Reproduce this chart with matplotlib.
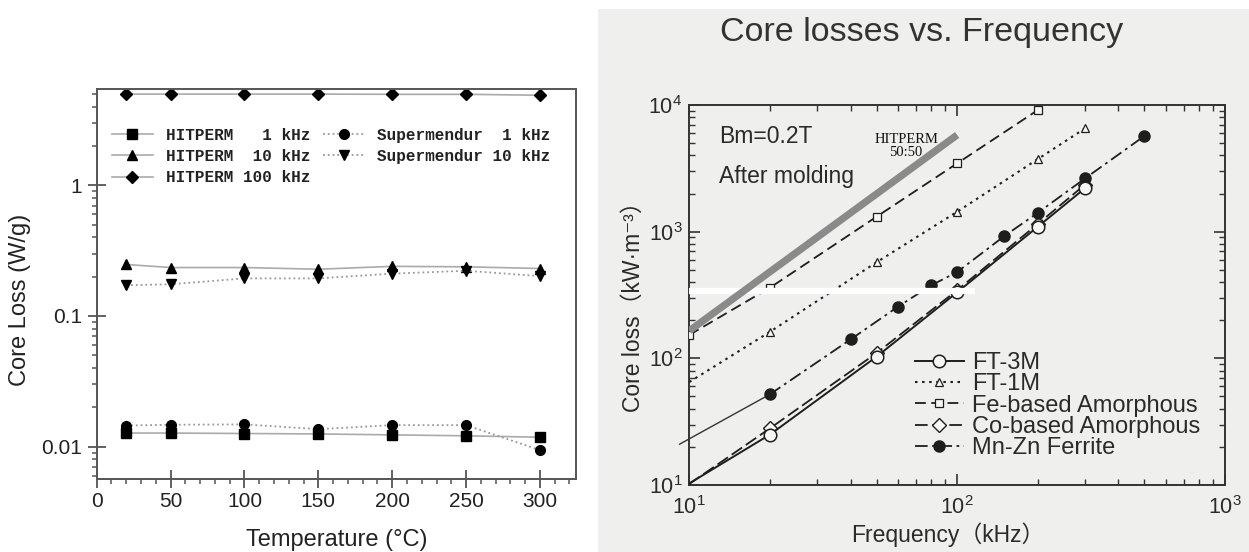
import math
import matplotlib
matplotlib.use('Agg')
import matplotlib.pyplot as plt
from matplotlib.patches import Rectangle
from matplotlib.ticker import LogLocator, FixedLocator, NullFormatter, MultipleLocator, FuncFormatter

plt.rcParams['font.family'] = ['Liberation Sans', 'Noto Sans CJK JP', 'DejaVu Sans']

# ---------------- Left chart data ----------------
temps = [20, 50, 100, 150, 200, 250, 300]
hitperm_1k = [0.0127, 0.0127, 0.0126, 0.0125, 0.0123, 0.0121, 0.0118]
hitperm_10k = [0.248, 0.235, 0.235, 0.228, 0.240, 0.238, 0.231]
hitperm_100k = [5.0, 5.0, 5.0, 5.0, 4.98, 4.98, 4.9]
supermendur_1k = [0.0145, 0.0147, 0.0148, 0.0136, 0.0146, 0.0146, 0.0094]
supermendur_10k = [0.172, 0.175, 0.194, 0.194, 0.211, 0.222, 0.202]
left_xticks = [0, 50, 100, 150, 200, 250, 300]
left_yticks = [0.01, 0.1, 1]
left_yticklabels = ['0.01', '0.1', '1']

# ---------------- Right chart data ----------------
ft3m_f = [10, 20, 50, 100, 200, 300]
ft3m_v = [10.3, 25, 103, 332, 1094, 2200]
ft1m_f = [10, 20, 50, 100, 200, 300]
ft1m_v = [65, 162, 573, 1436, 3740, 6530]
fe_f = [10, 20, 50, 100, 200]
fe_v = [153, 361, 1312, 3460, 9120]
co_f = [10, 20, 50, 100, 200, 300]
co_v = [10.2, 28, 110, 345, 1150, 2350]
mnzn_f = [20, 40, 60, 80, 100, 150, 200, 300, 500]
mnzn_v = [52, 141, 255, 377, 480, 923, 1409, 2630, 5690]
mnzn_ext_f = [9.2, 20]
mnzn_ext_v = [21, 52]
hitperm_f = [10, 100]
hitperm_v = [165, 5800]
strip_v = 340

W, H = 1249, 552
fig = plt.figure(figsize=(W / 100, H / 100), dpi=100)
fig.patch.set_facecolor('white')

# scanned-paper background of right panel
fig.patches.append(Rectangle((598 / W, 0), 1 - 598 / W, 1 - 9 / H, transform=fig.transFigure,
                             facecolor='#efefed', edgecolor='none', zorder=-10))

# ================= LEFT =================
ax1 = fig.add_axes([96.7 / W, 1 - 479.3 / H, (576 - 96.7) / W, (479.3 - 89.3) / H])
ax1.set_yscale('log')
ax1.set_xlim(0, 324.4)
ax1.set_ylim(0.00562, 5.44)

lc = '#aaaaaa'
ax1.plot(temps, hitperm_1k, '-', color=lc, lw=1.2, marker='s', ms=6.5, mfc='black', mec='black',
         label='HITPERM   1 kHz')
ax1.plot(temps, hitperm_10k, '-', color=lc, lw=1.2, marker='^', ms=7.5, mfc='black', mec='black',
         label='HITPERM  10 kHz')
ax1.plot(temps, hitperm_100k, '-', color=lc, lw=1.2, marker='D', ms=6.5, mfc='black', mec='black',
         label='HITPERM 100 kHz')
ax1.plot(temps, supermendur_1k, ':', color='#999999', lw=1.3, marker='o', ms=7, mfc='black', mec='black',
         label='Supermendur  1 kHz')
ax1.plot(temps, supermendur_10k, ':', color='#999999', lw=1.3, marker='v', ms=7.5, mfc='black', mec='black',
         label='Supermendur 10 kHz')

for s in ax1.spines.values():
    s.set_color('#555555')
    s.set_linewidth(1.4)

ax1.xaxis.set_major_locator(FixedLocator(left_xticks))
ax1.xaxis.set_minor_locator(MultipleLocator(10))
ax1.yaxis.set_major_locator(FixedLocator(left_yticks))
ax1.yaxis.set_major_formatter(FuncFormatter(lambda v, p: dict(zip(left_yticks, left_yticklabels)).get(v, '')))
ax1.yaxis.set_minor_locator(LogLocator(base=10, subs=range(2, 10)))
ax1.yaxis.set_minor_formatter(NullFormatter())
ax1.tick_params(axis='both', which='major', direction='inout', length=13, width=1.3, color='#555555',
                labelsize=15, colors='#222222')
ax1.tick_params(axis='x', which='major', pad=3)
ax1.tick_params(axis='y', which='major', pad=4)
ax1.tick_params(axis='both', which='minor', direction='out', length=3.5, width=1.1, color='#555555')
ax1.tick_params(top=False, right=False, which='both')

ax1.set_xlabel('Temperature (°C)', fontsize=17, color='#222222')
ax1.xaxis.label.set_va('center')
ax1.xaxis.set_label_coords(0.5, -0.156)
ax1.set_ylabel('Core Loss (W/g)', fontsize=17, color='#222222')
ax1.yaxis.label.set_va('center')
ax1.yaxis.set_label_coords(-0.16, 0.46)

leg1 = ax1.legend(loc='upper left', bbox_to_anchor=(0.031, 0.902), ncol=2, frameon=False,
                  prop={'family': 'Liberation Mono', 'weight': 'bold', 'size': 11.5},
                  handlelength=2.6, handletextpad=0.8, columnspacing=0.8, labelspacing=0.4,
                  borderpad=0, borderaxespad=0)
for t in leg1.get_texts():
    t.set_color('#222222')

# ================= RIGHT =================
ax2 = fig.add_axes([689.3 / W, 1 - 485 / H, (1225 - 689.3) / W, (485 - 105) / H])
ax2.set_facecolor('none')
ax2.set_xscale('log')
ax2.set_yscale('log')
ax2.set_xlim(10, 1000)
ax2.set_ylim(10, 10000)

k = '#1e1e1e'
ax2.plot(ft3m_f, ft3m_v, '-', color=k, lw=1.4, marker='o', ms=9, mfc='#f7f7f5', mec=k, mew=1.1,
         markevery=slice(1, None), label='FT-3M', zorder=4)
ax2.plot(ft1m_f, ft1m_v, color=k, lw=1.5, ls=(0, (1.2, 2.2)), marker='^', ms=6, mfc='#f7f7f5', mec=k,
         mew=0.9, markevery=slice(1, None), label='FT-1M', zorder=3)
ax2.plot(fe_f, fe_v, color=k, lw=1.3, ls=(0, (6, 3)), marker='s', ms=6, mfc='#f7f7f5', mec=k, mew=0.9,
         label='Fe-based Amorphous', zorder=3)
ax2.plot(co_f, co_v, color=k, lw=1.3, ls=(0, (7, 2.5)), marker='D', ms=7, mfc='#f7f7f5', mec=k, mew=1.0,
         markevery=slice(1, None), label='Co-based Amorphous', zorder=3)
ax2.plot(mnzn_f, mnzn_v, color=k, lw=1.3, ls=(0, (7, 2.5, 1.5, 2.5)), marker='o', ms=8, mfc=k, mec=k,
         label='Mn-Zn Ferrite', zorder=3)
ax2.plot(mnzn_ext_f, mnzn_ext_v, '-', color='#333333', lw=1.0, clip_on=False, zorder=2)

# white strip from the scan, then the HITPERM overlay line
ax2.plot([10, 117], [strip_v, strip_v], '-', color='white', lw=4.5, solid_capstyle='butt',
         clip_on=False, zorder=5)
ax2.plot(hitperm_f, hitperm_v, '-', color='#8a8a8a', lw=5.2, solid_capstyle='butt', zorder=6)
ax2.text(64.5, 4740, 'HITPERM\n50:50', fontsize=10.5, family='Liberation Serif', ha='center', va='center',
         linespacing=1.05, color='#111111', zorder=7)

ax2.text(0.055, 0.918, 'Bm=0.2T', transform=ax2.transAxes, fontsize=16.5, va='center', ha='left',
         color='#2a2a2a')
ax2.text(0.055, 0.813, 'After molding', transform=ax2.transAxes, fontsize=16.5, va='center', ha='left',
         color='#2a2a2a')

for s in ax2.spines.values():
    s.set_color('#333333')
    s.set_linewidth(1.4)

ax2.xaxis.set_major_locator(LogLocator(base=10, numticks=10))
ax2.yaxis.set_major_locator(LogLocator(base=10, numticks=10))
ax2.xaxis.set_minor_locator(LogLocator(base=10, subs=range(2, 10), numticks=20))
ax2.yaxis.set_minor_locator(LogLocator(base=10, subs=range(2, 10), numticks=20))
sup = FuncFormatter(lambda v, p: r'$\mathregular{10^{%d}}$' % round(math.log10(v)))
ax2.xaxis.set_major_formatter(sup)
ax2.yaxis.set_major_formatter(sup)
ax2.xaxis.set_minor_formatter(NullFormatter())
ax2.yaxis.set_minor_formatter(NullFormatter())
ax2.tick_params(axis='both', which='major', direction='in', length=8, width=1.2, color='#333333',
                labelsize=15.5, labelcolor='#2a2a2a', top=True, right=True)
ax2.tick_params(axis='x', which='major', pad=8)
ax2.tick_params(axis='y', which='major', pad=5)
ax2.tick_params(axis='both', which='minor', direction='in', length=4, width=1.0, color='#333333',
                top=True, right=True)

ax2.set_xlabel('Frequency（kHz）', fontsize=16.5, color='#2a2a2a')
ax2.xaxis.label.set_va('center')
ax2.xaxis.set_label_coords(0.483, -0.132)
ax2.set_ylabel('Core loss（kW·m⁻³）', fontsize=16.5, color='#2a2a2a')
ax2.yaxis.label.set_va('center')
ax2.yaxis.set_label_coords(-0.105, 0.484)

leg2 = ax2.legend(loc='upper left', bbox_to_anchor=(0.4206, 0.35), frameon=False, fontsize=17,
                  handlelength=2.1, handletextpad=0.35, labelspacing=-0.03, borderpad=0,
                  borderaxespad=0)
for t in leg2.get_texts():
    t.set_color('#2a2a2a')

fig.text(922 / W, 1 - 33 / H, 'Core losses vs. Frequency', ha='center', va='center', fontsize=24.5,
         color='#333333')

fig.savefig('out.png', dpi=100, facecolor=fig.get_facecolor())
